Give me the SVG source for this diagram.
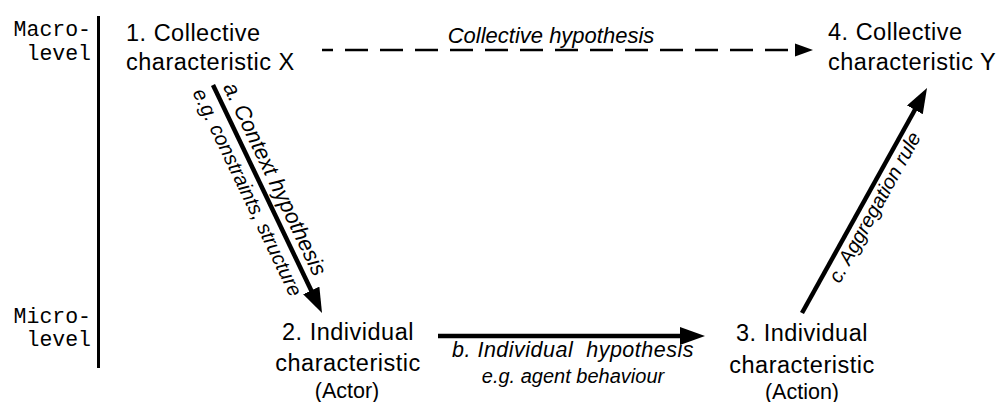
<svg xmlns="http://www.w3.org/2000/svg" width="1001" height="402" viewBox="0 0 1001 402">
  <style>
    .lvl { font-family: "Liberation Mono", "DejaVu Sans Mono", monospace; font-size: 21.5px; fill: #000; }
    .node { font-family: "Liberation Sans", Arial, sans-serif; font-size: 23.5px; letter-spacing: 0.5px; fill: #000; }
    .sub { font-family: "Liberation Sans", Arial, sans-serif; font-size: 21.5px; fill: #000; }
    .lab { font-family: "Liberation Sans", Arial, sans-serif; font-style: italic; fill: #000; }
    .solid { stroke: #000; stroke-width: 4.5; fill: none; }
    .dash { stroke: #000; stroke-width: 2.6; fill: none; stroke-dasharray: 23 12; stroke-dashoffset: 12; }
  </style>
  <defs>
    <marker id="head" markerUnits="userSpaceOnUse" markerWidth="26" markerHeight="18" refX="5" refY="9" orient="auto">
      <path d="M0,0 L25,9 L0,18 Z" fill="#000"/>
    </marker>
    <marker id="headDash" markerUnits="userSpaceOnUse" markerWidth="19" markerHeight="14" refX="5" refY="7" orient="auto">
      <path d="M0,0.5 L18,7 L0,13.5 Z" fill="#000"/>
    </marker>
  </defs>

  <rect width="1001" height="402" fill="#fff"/>

  <!-- level axis -->
  <g id="levels">
    <line x1="98.5" y1="16" x2="98.5" y2="368" stroke="#000" stroke-width="3"/>
    <text class="lvl" x="91" y="36" text-anchor="end">Macro-</text>
    <text class="lvl" x="91" y="59.5" text-anchor="end">level</text>
    <text class="lvl" x="91" y="322.5" text-anchor="end">Micro-</text>
    <text class="lvl" x="91" y="346" text-anchor="end">level</text>
  </g>

  <!-- nodes -->
  <g id="node1">
    <text class="node" x="126" y="41">1. Collective</text>
    <text class="node" x="126" y="70">characteristic X</text>
  </g>
  <g id="node2" text-anchor="middle">
    <text class="node" x="348" y="339.5">2. Individual</text>
    <text class="node" x="348" y="371">characteristic</text>
    <text class="sub" x="347" y="398">(Actor)</text>
  </g>
  <g id="node3" text-anchor="middle">
    <text class="node" x="802" y="340.5">3. Individual</text>
    <text class="node" x="802" y="372.5">characteristic</text>
    <text class="sub" x="802" y="399">(Action)</text>
  </g>
  <g id="node4">
    <text class="node" x="828" y="40">4. Collective</text>
    <text class="node" x="828" y="70">characteristic Y</text>
  </g>

  <!-- connectors -->
  <g id="connectors">
    <!-- collective hypothesis (dashed) -->
    <line class="dash" x1="322" y1="50" x2="800" y2="50" marker-end="url(#headDash)"/>
    <text class="lab" x="551" y="43" font-size="22" text-anchor="middle">Collective hypothesis</text>

    <!-- a. context hypothesis -->
    <line class="solid" x1="213" y1="85" x2="313.4" y2="295" marker-end="url(#head)"/>
    <g transform="translate(268.3,182.1) rotate(64.45)">
      <text class="lab" x="0" y="0" font-size="22" text-anchor="middle">a. Context hypothesis</text>
    </g>
    <g transform="translate(241.3,195.1) rotate(64.45)">
      <text class="lab" x="0" y="0" font-size="20.3" text-anchor="middle">e.g. constraints, structure</text>
    </g>

    <!-- b. individual hypothesis -->
    <line class="solid" x1="438" y1="336" x2="685" y2="336" marker-end="url(#head)"/>
    <text class="lab" x="573" y="357" font-size="21.5" letter-spacing="0.5" text-anchor="middle" xml:space="preserve">b. Individual  hypothesis</text>
    <text class="lab" x="573" y="383" font-size="20" text-anchor="middle">e.g. agent behaviour</text>

    <!-- c. aggregation rule -->
    <line class="solid" x1="802" y1="313" x2="917.3" y2="105.5" marker-end="url(#head)"/>
    <g transform="translate(880.6,210.6) rotate(-60.95)">
      <text class="lab" x="0" y="0" font-size="20.2" text-anchor="middle">c. Aggregation rule</text>
    </g>
  </g>
</svg>
